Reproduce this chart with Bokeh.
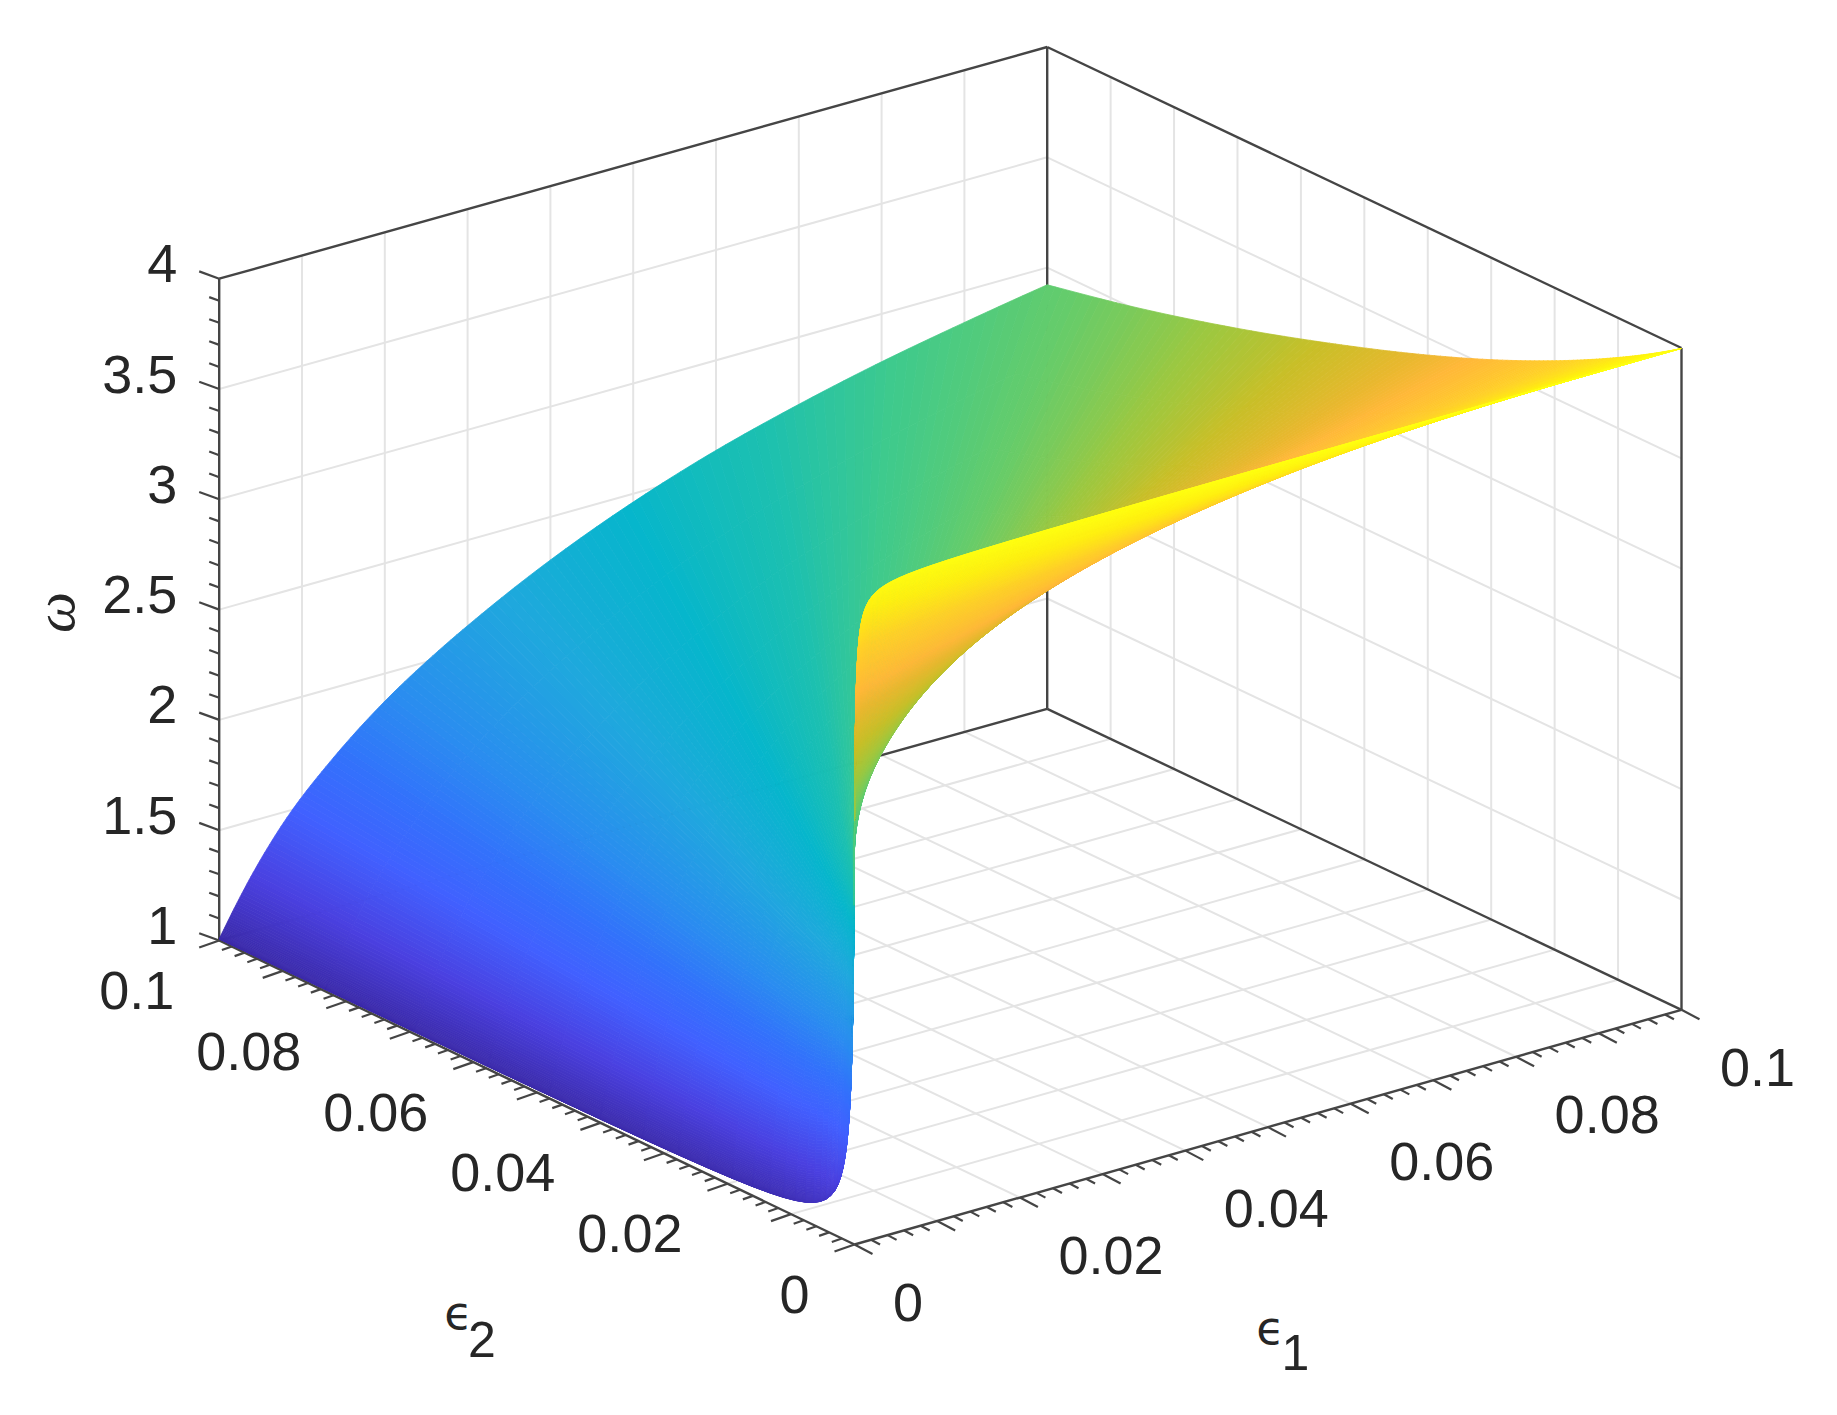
from bokeh.plotting import figure
from bokeh.models import Range1d, ColumnDataSource
from bokeh.transform import linear_cmap
from bokeh.core.properties import value
from bokeh.embed import file_html
from bokeh.resources import INLINE
import numpy as np

# ---- values ----
# omega along the far edge e2 = 0.1 (at these e1 values)
edge_a_e1 = [0.0, 0.00173, 0.00463, 0.00825, 0.0138, 0.01984, 0.02636, 0.03156, 0.0398,
             0.0494, 0.0599, 0.0698, 0.08, 0.0901, 0.1]
edge_a_w = [1.0, 1.115, 1.289, 1.47, 1.681, 1.868, 2.031, 2.143, 2.30,
            2.453, 2.59, 2.693, 2.783, 2.857, 2.922]
# omega along the far edge e1 = 0.1 (at these e2 values)
edge_b_e2 = [0.0868, 0.0711, 0.0555, 0.0398, 0.0294, 0.0159, 0.0]
edge_b_w = [3.005, 3.125, 3.265, 3.425, 3.546, 3.73, 4.0]
# how tightly the surface turns at the origin (read from the corner rounding)
corner_e = 0.0001

z_ticks = [1, 1.5, 2, 2.5, 3, 3.5, 4]
z_labels = ["1", "1.5", "2", "2.5", "3", "3.5", "4"]
e_label_ticks = [0, 0.02, 0.04, 0.06, 0.08, 0.1]
e_labels = ["0", "0.02", "0.04", "0.06", "0.08", "0.1"]
e_major = [i / 100 for i in range(11)]
e_minor = [i / 500 for i in range(51) if i % 5]
z_minor = [1 + i / 10 for i in range(31) if i % 5]
cmap_stops = ["#3b2aa8", "#4a40e0", "#4160ff", "#3272fb", "#2a8cf0", "#1fa8dd", "#06b6cc",
              "#1cc0b0", "#3fca8c", "#66cc6a", "#9cc840", "#c8bf28", "#e8b82e", "#ffb838",
              "#ffd028", "#fff010", "#ffff10"]
cmap_w = [1.0, 1.25, 1.5, 1.7, 1.9, 2.2, 2.45, 2.65, 2.8, 2.95, 3.1, 3.25, 3.4, 3.5, 3.7, 3.87, 4.0]

# ---- box projection (layout of the 3-D view, in page pixels) ----
O, A, B, C = np.array([854.0, 1244.0]), np.array([1681.0, 1009.3]), np.array([218.7, 940.0]), np.array([1046.7, 708.3])
Z_PX = 220.6

def project(e1, e2, w=1.0):
    a, b = np.asarray(e1, float) / 0.1, np.asarray(e2, float) / 0.1
    w = np.asarray(w, float)
    x = O[0] + a * (A[0] - O[0]) + b * (B[0] - O[0]) + a * b * (O[0] + C[0] - A[0] - B[0])
    y = O[1] + a * (A[1] - O[1]) + b * (B[1] - O[1]) + a * b * (O[1] + C[1] - A[1] - B[1]) - (w - 1) * Z_PX
    return x, y

# omega is constant along rays from the origin; readings are keyed on e1/(e1+e2).
# The fine mesh below only shades the surface smoothly between the readings above.
_a = np.array(edge_a_e1)
t_read = np.r_[_a / (_a + 0.1), 0.1 / (0.1 + np.array(edge_b_e2))]
w_read = np.r_[edge_a_w, edge_b_w]
m_read = np.gradient(w_read, t_read)

def smooth_through_readings(t):
    k = np.clip(np.searchsorted(t_read, t, side="right") - 1, 0, t_read.size - 2)
    h = t_read[k + 1] - t_read[k]
    s = (t - t_read[k]) / h
    return ((2 * s**3 - 3 * s**2 + 1) * w_read[k] + (s**3 - 2 * s**2 + s) * h * m_read[k]
            + (-2 * s**3 + 3 * s**2) * w_read[k + 1] + (s**3 - s**2) * h * m_read[k + 1])

def omega(e1, e2):
    return smooth_through_readings((e1 + corner_e) / (e1 + e2 + 2 * corner_e))

far1 = 0.1 * (np.arange(0, 151) / 150) ** 2.2
far2 = 0.1 * (1 - np.arange(1, 131) / 130) ** 1.6
far_e1 = np.r_[far1, np.full(far2.size, 0.1)]
far_e2 = np.r_[np.full(far1.size, 0.1), far2]
r = np.r_[0, np.geomspace(0.0008, 1, 40)]
E1 = np.outer(r, far_e1)
E2 = np.outer(r, far_e2)
W = omega(E1, E2)
X, Y = project(E1, E2, W)

i, j = np.meshgrid(np.arange(r.size - 1), np.arange(far_e1.size - 1), indexing="ij")
i, j = i.ravel(), j.ravel()
mean = lambda M: (M[i, j] + M[i + 1, j] + M[i + 1, j + 1] + M[i, j + 1]) / 4
depth = 592 * mean(E1) / 0.1 + 761 * mean(E2) / 0.1 - 268 * (mean(W) - 1) / 3
order = np.argsort(-depth)
i, j = i[order], j[order]
surf = ColumnDataSource(dict(
    xs=np.stack([X[i, j], X[i + 1, j], X[i + 1, j + 1], X[i, j + 1]], axis=1).round(2).tolist(),
    ys=np.stack([Y[i, j], Y[i + 1, j], Y[i + 1, j + 1], Y[i, j + 1]], axis=1).round(2).tolist(),
    w=((W[i, j] + W[i + 1, j] + W[i + 1, j + 1] + W[i, j + 1]) / 4).round(4).tolist(),
))

def hex2rgb(h):
    return [int(h[k:k + 2], 16) for k in (1, 3, 5)]
levels = np.linspace(1, 4, 1024)
rgb = np.array([hex2rgb(c) for c in cmap_stops], float)
palette = ["#%02x%02x%02x" % tuple(int(round(np.interp(v, cmap_w, rgb[:, k]))) for k in range(3)) for v in levels]

p = figure(width=1821, height=1399, x_range=Range1d(0, 1821), y_range=Range1d(1399, 0),
           output_backend="svg", toolbar_location=None, min_border=0, outline_line_color=None,
           background_fill_color="white", border_fill_color="white")
p.axis.visible = False
p.grid.visible = False

def seg(pts0, pts1, color, width):
    p.segment(x0=pts0[0], y0=pts0[1], x1=pts1[0], y1=pts1[1], line_color=color, line_width=width)

GRID, AX = "#e4e4e4", "#454545"
inner = np.array(e_major[1:-1])
full = np.ones_like(inner)
zin = np.array(z_ticks[1:-1], float)
# back walls
seg(project(inner, 0.1 * full, 1), project(inner, 0.1 * full, 4), GRID, 2.0)
seg(project(0.1 * full, inner, 1), project(0.1 * full, inner, 4), GRID, 2.0)
seg(project(0 * zin, 0.1 + 0 * zin, zin), project(0.1 + 0 * zin, 0.1 + 0 * zin, zin), GRID, 2.0)
seg(project(0.1 + 0 * zin, 0.1 + 0 * zin, zin), project(0.1 + 0 * zin, 0 * zin, zin), GRID, 2.0)
# floor
seg(project(inner, 0 * inner), project(inner, 0.1 * full), GRID, 2.0)
seg(project(0 * inner, inner), project(0.1 * full, inner), GRID, 2.0)

# box
bx0 = project([0, 0.1, 0, 0.1, 0, 0.1, 0.1, 0, 0], [0.1, 0.1, 0.1, 0.1, 0.1, 0.1, 0, 0, 0], [1, 1, 4, 4, 1, 1, 1, 1, 1])
bx1 = project([0.1, 0.1, 0.1, 0.1, 0, 0.1, 0.1, 0.1, 0], [0.1, 0, 0.1, 0, 0.1, 0.1, 0, 0, 0.1], [1, 1, 4, 4, 4, 4, 4, 1, 1])
seg(bx0, bx1, AX, 2.4)

# ticks
def ticks(x, y, dx, dy, width=2.2):
    p.segment(x0=x, y0=y, x1=x + dx, y1=y + dy, line_color=AX, line_width=width)
for vals, L in ((e_major, 1.0), (e_minor, 0.5)):
    v = np.array(vals)
    ex, ey = project(v, 0 * v)
    ticks(ex, ey, 18 * L, 9.5 * L)
    ex, ey = project(0 * v, v)
    ticks(ex, ey, -20 * L, 7 * L)
for vals, L in ((z_ticks, 1.0), (z_minor, 0.5)):
    v = np.array(vals, float)
    ex, ey = project(0 * v, 0.1 + 0 * v, v)
    ticks(ex, ey, -20 * L, -7.3 * L)

# surface
p.patches("xs", "ys", source=surf,
          fill_color=linear_cmap("w", palette, 1, 4), line_color=linear_cmap("w", palette, 1, 4), line_width=0.8)

# tick labels
FONT = value("Liberation Sans")
TXT = "#262626"
def labels(x, y, txt, align, size="54px"):
    p.text(x=x, y=y, text=txt, text_font=FONT, text_font_size=size, text_color=TXT,
           text_align=align, text_baseline="middle")
v = np.array(z_ticks, float)
zx, zy = project(0 * v, 0.1 + 0 * v, v)
labels(zx - 42, zy - 15, z_labels, "right")
v = np.array(e_label_ticks)
lx, ly = project(0 * v, v)
labels(lx - 45, ly + 50, e_labels, "right")
lx, ly = project(v, 0 * v)
labels(lx + 38.5, ly + 58, e_labels, "left")

# axis names
p.text(x=[54], y=[612], text=["ω"], angle=[np.pi / 2], text_font=value("Liberation Serif"), text_font_style="italic",
       text_font_size="58px", text_color=TXT, text_align="center", text_baseline="middle")
p.text(x=[458, 1270], y=[1312, 1327], text=["ϵ", "ϵ"], text_font=value("DejaVu Sans"), text_font_size="46px",
       text_color=TXT, text_align="center", text_baseline="middle")
p.text(x=[481.5, 1295], y=[1339, 1352], text=["2", "1"], text_font=FONT, text_font_size="50px",
       text_color=TXT, text_align="center", text_baseline="middle")

open("out.html", "w").write(file_html(p, INLINE))
